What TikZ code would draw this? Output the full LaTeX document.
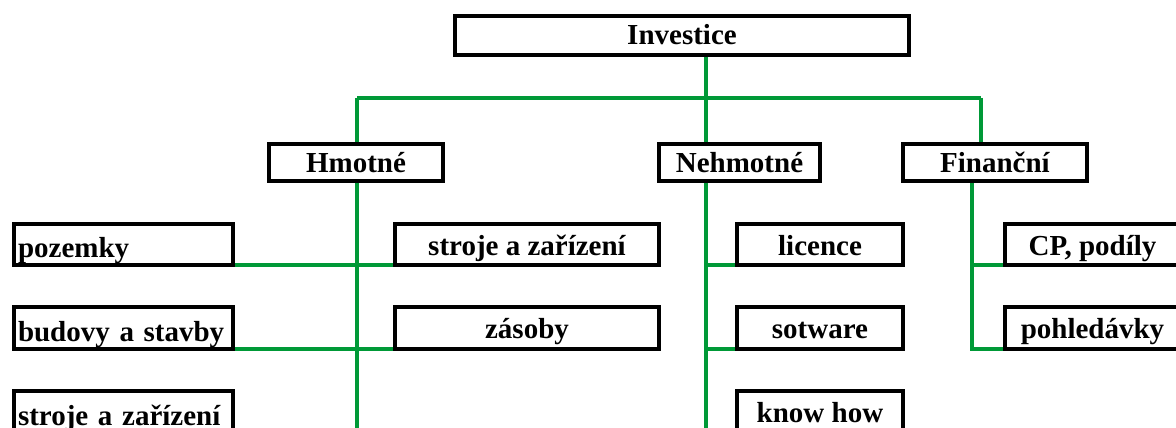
\documentclass[tikz,border=0pt]{standalone}
\usepackage{fontspec}
\setmainfont{Liberation Serif}
\usetikzlibrary{backgrounds}
\definecolor{lgreen}{RGB}{0,153,55}
\tikzset{
  box/.style={draw=black, fill=white, line width=4pt, rectangle, inner sep=0pt, outer sep=0pt,
    font=\fontsize{29pt}{34pt}\selectfont\bfseries, text depth=0pt},
  cbox/.style={box, text height=21pt},
  topbox/.style={box, text height=19pt},
  lbox/.style={box, text height=26pt, inner xsep=4pt, text width=211pt, align=left},
  conn/.style={draw=lgreen, line width=4pt}
}
\begin{document}
\begin{tikzpicture}[x=1pt,y=-1pt]
\useasboundingbox (0,0) rectangle (1176,428);
\clip (0,0) rectangle (1176,428);
% top level
\node[topbox, minimum width=454pt, minimum height=39pt] (inv) at (682,35.5) {Investice};
% categories
\node[topbox, minimum width=174pt, minimum height=37pt] (hm) at (356,162.5) {Hmotné};
\node[topbox, minimum width=161pt, minimum height=37pt] (neh) at (739.5,162.5) {Nehmotné};
\node[topbox, minimum width=184pt, minimum height=37pt] (fin) at (995,162.5) {Finanční};
% left column
\node[lbox, minimum height=41pt] (poz) at (123.5,244.5) {pozemky};
\node[lbox, minimum height=42pt] (bud) at (123.5,328) {budovy a stavby};
\node[lbox, minimum height=42pt] (strL) at (123.5,412) {stroje a zařízení};
% Hmotne right column
\node[cbox, minimum width=264pt, minimum height=41pt] (strR) at (527,244.5) {stroje a zařízení};
\node[cbox, minimum width=264pt, minimum height=42pt] (zas) at (527,328) {zásoby};
% Nehmotne
\node[cbox, minimum width=166pt, minimum height=41pt] (lic) at (820,244.5) {licence};
\node[cbox, minimum width=166pt, minimum height=42pt] (sot) at (820,328) {sotware};
\node[cbox, minimum width=166pt, minimum height=42pt] (know) at (820,412) {know how};
% Financni
\node[cbox, minimum width=175pt, minimum height=41pt] (cp) at (1092.5,244.5) {CP, podíly};
\node[cbox, minimum width=175pt, minimum height=42pt] (pohl) at (1092.5,328) {pohledávky};
% connector coordinates
\coordinate (jT) at (706,98);
\coordinate (jH) at (357,98);
\coordinate (jF) at (981,98);
\coordinate (hB) at (357,440);
\coordinate (nB) at (706,440);
\coordinate (fx) at (972,200);
\begin{pgfonlayer}{background}
\fill[white] (0,0) rectangle (1176,428);
\draw[conn] (inv.south -| jT) -- (jT);
\draw[conn] (jH) -- (jF);
\draw[conn] (jH) -- (hm.north -| jH);
\draw[conn] (jT) -- (neh.north -| jT);
\draw[conn] (jF) -- (fin.north -| jF);
\draw[conn] (hm.south -| hB) -- (hB);
\draw[conn] (poz.south east) -- (strR.south west);
\draw[conn] (bud.south east) -- (zas.south west);
\draw[conn] (neh.south -| nB) -- (nB);
\draw[conn] (lic.south west -| nB) -- (lic.south west);
\draw[conn] (sot.south west -| nB) -- (sot.south west);
\draw[conn] (fin.south -| fx) |- (pohl.south west);
\draw[conn] (fx |- cp.south west) -- (cp.south west);
\end{pgfonlayer}
\end{tikzpicture}
\end{document}
